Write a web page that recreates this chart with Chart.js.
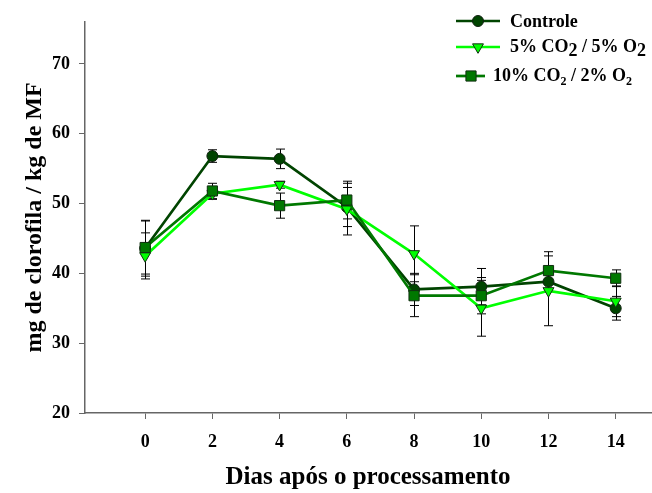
<!DOCTYPE html>
<html><head><meta charset="utf-8">
<script src="https://cdn.jsdelivr.net/npm/chart.js@4/dist/chart.umd.min.js"></script>
<style>html,body{margin:0;padding:0;background:#fff}#wrap{width:652px;height:493px;position:relative}</style>
</head><body><div id="wrap"><canvas id="c" width="652" height="493"></canvas></div>
<script>
const days = [0, 2, 4, 6, 8, 10, 12, 14];
const controle = [43.6, 56.8, 56.4, 49.5, 37.7, 38.1, 38.8, 35.0];
const controleErr = [4.0, 0.9, 1.4, 2.8, 2.3, 2.6, 1.0, 1.7];
const co2_5 = [42.5, 51.4, 52.7, 49.2, 42.8, 35.0, 37.5, 36.0];
const co2_5Err = [3.3, 0.8, 0.5, 3.7, 4.0, 4.0, 5.0, 2.2];
const co2_10 = [43.7, 51.8, 49.7, 50.5, 36.8, 36.8, 40.4, 39.3];
const co2_10Err = [3.8, 1.1, 1.8, 2.7, 3.0, 2.6, 2.7, 1.2];
const xTicks = [0, 2, 4, 6, 8, 10, 12, 14];
const yTicks = [20, 30, 40, 50, 60, 70];
const seriesNames = ['Controle', '5% CO2 / 5% O2', '10% CO2 / 2% O2'];

const FONT = "'Liberation Serif', 'Times New Roman', serif";
const C_DARK = '#004400', C_LIGHT = '#00ff00', C_MID = '#007800';

function pts(vals) { return days.map((d, i) => ({ x: d, y: vals[i] })); }

const errorBars = {
  id: 'errorBars',
  beforeDatasetsDraw(chart) {
    const { ctx, scales: { x, y } } = chart;
    ctx.save();
    ctx.strokeStyle = '#000';
    ctx.lineWidth = 1;
    chart.data.datasets.forEach(ds => {
      ds.data.forEach((p, i) => {
        const e = ds.errors[i];
        const px = Math.round(x.getPixelForValue(p.x)) + 0.5;
        const yt = y.getPixelForValue(p.y + e), yb = y.getPixelForValue(p.y - e);
        ctx.beginPath();
        ctx.moveTo(px, yt); ctx.lineTo(px, yb);
        ctx.moveTo(px - 4.5, yt); ctx.lineTo(px + 4.5, yt);
        ctx.moveTo(px - 4.5, yb); ctx.lineTo(px + 4.5, yb);
        ctx.stroke();
      });
    });
    ctx.restore();
  }
};

const legendRows = [
  { parts: [['Controle', 0]], x0: 456, x1: 500, mx: 478, ly: 21, tx: 510, by: 27, ds: 0, subSize: 18 },
  { parts: [['5% CO', 0], ['2', 1], [' / 5% O', 0], ['2', 1]], x0: 456, x1: 500, mx: 478, ly: 47, tx: 510, by: 52, ds: 1, subSize: 18 },
  { parts: [['10% CO', 0], ['2', 1], [' / 2% O', 0], ['2', 1]], x0: 456, x1: 485, mx: 471, ly: 76, tx: 493, by: 81, ds: 2, subSize: 12 }
];

const customLegend = {
  id: 'customLegend',
  afterDraw(chart) {
    const ctx = chart.ctx;
    ctx.save();
    legendRows.forEach(r => {
      const ds = chart.data.datasets[r.ds];
      ctx.strokeStyle = ds.borderColor;
      ctx.lineWidth = ds.borderWidth;
      ctx.beginPath(); ctx.moveTo(r.x0, r.ly); ctx.lineTo(r.x1, r.ly); ctx.stroke();
      ctx.fillStyle = ds.pointBackgroundColor;
      ctx.strokeStyle = ds.pointBorderColor;
      ctx.lineWidth = ds.pointBorderWidth;
      Chart.helpers.drawPoint(ctx, { pointStyle: ds.pointStyle, radius: ds.pointRadius, rotation: ds.pointRotation || 0, borderWidth: ds.pointBorderWidth }, r.mx, r.ly);
      let x = r.tx;
      ctx.fillStyle = '#000';
      ctx.textBaseline = 'alphabetic';
      ctx.textAlign = 'left';
      r.parts.forEach(([t, sub]) => {
        ctx.font = 'bold ' + (sub ? r.subSize : 18) + 'px ' + FONT;
        ctx.fillText(t, x, r.by + (sub ? 4 : 0));
        x += ctx.measureText(t).width;
      });
    });
    ctx.restore();
  }
};

const axisGrid = { display: true, drawOnChartArea: false, drawTicks: true, tickLength: 6, color: '#666', lineWidth: 1 };

new Chart(document.getElementById('c'), {
  type: 'line',
  data: {
    datasets: [
      { label: seriesNames[0], data: pts(controle), errors: controleErr, order: 3,
        borderColor: C_DARK, borderWidth: 2.7, pointStyle: 'circle', pointRadius: 5.5,
        pointBackgroundColor: C_DARK, pointBorderColor: '#102010', pointBorderWidth: 1, tension: 0 },
      { label: seriesNames[1], data: pts(co2_5), errors: co2_5Err, order: 2,
        borderColor: C_LIGHT, borderWidth: 2.7, pointStyle: 'triangle', pointRadius: 6.3, pointRotation: 180,
        pointBackgroundColor: C_LIGHT, pointBorderColor: '#103010', pointBorderWidth: 1, tension: 0 },
      { label: seriesNames[2], data: pts(co2_10), errors: co2_10Err, order: 1,
        borderColor: C_MID, borderWidth: 2.7, pointStyle: 'rect', pointRadius: 7.2,
        pointBackgroundColor: C_MID, pointBorderColor: '#103010', pointBorderWidth: 1, tension: 0 }
    ]
  },
  options: {
    responsive: false,
    animation: false,
    devicePixelRatio: 1,
    layout: { autoPadding: false, padding: { top: 22, right: 1, left: 0, bottom: 0 } },
    plugins: { legend: { display: false }, tooltip: { enabled: false } },
    scales: {
      x: {
        type: 'linear', min: -1.79, max: 15.05,
        afterBuildTicks: s => { s.ticks = xTicks.map(v => ({ value: v })); },
        afterFit: s => { s.height = 80; },
        grid: axisGrid,
        border: { display: true, color: '#666', width: 1.5 },
        ticks: { color: '#000', padding: 13, font: { family: FONT, size: 18, weight: 'bold' }, maxRotation: 0 },
        title: { display: true, text: 'Dias após o processamento', color: '#000',
          font: { family: FONT, size: 25, weight: 'bold' }, padding: { top: 0, bottom: 0 } }
      },
      y: {
        type: 'linear', min: 20, max: 76,
        afterBuildTicks: s => { s.ticks = yTicks.map(v => ({ value: v })); },
        afterFit: s => { s.width = 85; },
        grid: axisGrid,
        border: { display: true, color: '#666', width: 1.5 },
        ticks: { color: '#000', padding: 9, font: { family: FONT, size: 18, weight: 'bold' } },
        title: { display: true, text: 'mg de clorofila / kg de MF', color: '#000',
          font: { family: FONT, size: 24, weight: 'bold' }, padding: { top: 20, bottom: 20 } }
      }
    }
  },
  plugins: [errorBars, customLegend]
});
</script></body></html>
